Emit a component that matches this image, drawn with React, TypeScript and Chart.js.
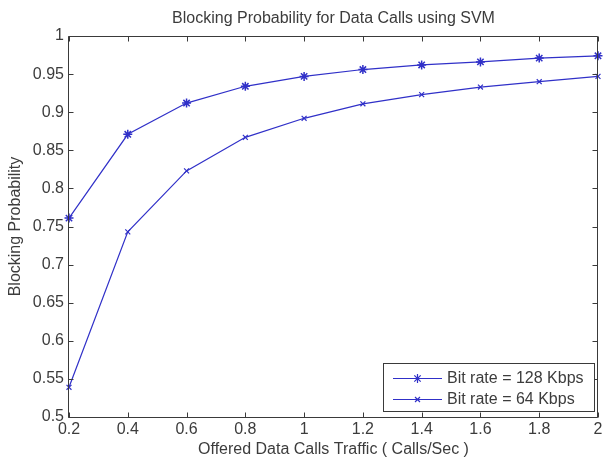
import React, { useEffect, useRef } from "react";
import { Chart, registerables } from "chart.js";

Chart.register(...registerables);

const trafficValues = [0.2, 0.4, 0.6, 0.8, 1.0, 1.2, 1.4, 1.6, 1.8, 2.0];
const blocking128 = [0.761, 0.871, 0.912, 0.934, 0.947, 0.956, 0.962, 0.966, 0.971, 0.974];
const blocking64 = [0.539, 0.743, 0.823, 0.867, 0.892, 0.911, 0.923, 0.933, 0.94, 0.947];
const seriesLabels = ["Bit rate = 128 Kbps", "Bit rate = 64 Kbps"];
const chartTitle = "Blocking Probability for Data Calls using SVM";
const xTitle = "Offered Data Calls Traffic ( Calls/Sec )";
const yTitle = "Blocking Probability";

const FONT = "'Liberation Sans', Arial, sans-serif";
const FS = 16;
const TEXT = "#3c3c3c";
const AXIS = "#3a3a3a";
const BLUE = "#3030c8";

const fmt = (v: number) => String(Number(Number(v).toFixed(2)));

function drawMarker(ctx: CanvasRenderingContext2D, style: string, x: number, y: number, r: number) {
  ctx.beginPath();
  if (style === "star") {
    ctx.moveTo(x - r, y); ctx.lineTo(x + r, y);
    ctx.moveTo(x, y - r); ctx.lineTo(x, y + r);
    const d = r * 0.7071;
    ctx.moveTo(x - d, y - d); ctx.lineTo(x + d, y + d);
    ctx.moveTo(x - d, y + d); ctx.lineTo(x + d, y - d);
  } else {
    const d = r * 0.7071;
    ctx.moveTo(x - d, y - d); ctx.lineTo(x + d, y + d);
    ctx.moveTo(x - d, y + d); ctx.lineTo(x + d, y - d);
  }
  ctx.stroke();
}

const framePlugin = {
  id: "matlabFrame",
  afterDraw(chart: any) {
    const { ctx, chartArea: ca, scales } = chart;
    ctx.save();
    // title
    ctx.fillStyle = TEXT;
    ctx.font = `${FS}px ${FONT}`;
    ctx.textAlign = "center";
    ctx.textBaseline = "middle";
    ctx.fillText(chartTitle, (ca.left + ca.right) / 2, 19);

    // box
    const L = ca.left - 0.5, R = ca.right - 0.5, T = ca.top + 0.5, B = ca.bottom + 0.5;
    ctx.strokeStyle = AXIS;
    ctx.lineWidth = 1;
    ctx.beginPath();
    ctx.rect(L, T, R - L, B - T);
    ctx.stroke();

    // inward ticks
    const tl = 5;
    ctx.beginPath();
    scales.x.ticks.forEach((t: any) => {
      const px = Math.round(scales.x.getPixelForValue(t.value)) + 0.5;
      ctx.moveTo(px, B); ctx.lineTo(px, B - tl);
      ctx.moveTo(px, T); ctx.lineTo(px, T + tl);
    });
    scales.y.ticks.forEach((t: any) => {
      const py = Math.round(scales.y.getPixelForValue(t.value)) + 0.5;
      ctx.moveTo(L, py); ctx.lineTo(L + tl, py);
      ctx.moveTo(R, py); ctx.lineTo(R - tl, py);
    });
    ctx.stroke();

    // legend
    const lx = 383.5, ly = 363.5, lw = 211, lh = 48;
    ctx.fillStyle = "#ffffff";
    ctx.fillRect(lx, ly, lw, lh);
    ctx.strokeStyle = AXIS;
    ctx.strokeRect(lx, ly, lw, lh);
    const rows = [378, 399];
    chart.data.datasets.forEach((ds: any, i: number) => {
      const y = rows[i] + 0.5;
      ctx.strokeStyle = ds.borderColor;
      ctx.lineWidth = 1.2;
      ctx.beginPath();
      ctx.moveTo(393, y); ctx.lineTo(442, y);
      ctx.stroke();
      drawMarker(ctx, ds.pointStyle, 417.5, y, ds.pointRadius);
      ctx.fillStyle = TEXT;
      ctx.font = `${FS}px ${FONT}`;
      ctx.textAlign = "left";
      ctx.textBaseline = "middle";
      ctx.fillText(ds.label, 447, y);
    });
    ctx.restore();
  },
};

export default function App() {
  const ref = useRef<HTMLCanvasElement | null>(null);
  useEffect(() => {
    if (!ref.current) return;
    const chart = new Chart(ref.current, {
      type: "line",
      data: {
        datasets: [
          {
            label: seriesLabels[0],
            data: trafficValues.map((x, i) => ({ x, y: blocking128[i] })),
            borderColor: BLUE,
            backgroundColor: BLUE,
            borderWidth: 1.2,
            pointStyle: "star",
            pointRadius: 4.5,
            pointBorderWidth: 1.5,
            pointBorderColor: BLUE,
            tension: 0,
            clip: false as any,
          },
          {
            label: seriesLabels[1],
            data: trafficValues.map((x, i) => ({ x, y: blocking64[i] })),
            borderColor: BLUE,
            backgroundColor: BLUE,
            borderWidth: 1.2,
            pointStyle: "crossRot",
            pointRadius: 3.5,
            pointBorderWidth: 1.2,
            pointBorderColor: BLUE,
            tension: 0,
            clip: false as any,
          },
        ],
      },
      options: {
        responsive: false,
        devicePixelRatio: 1,
        animation: false,
        layout: { padding: { top: 36, right: 3, left: 0, bottom: 0 } },
        plugins: {
          legend: { display: false },
          title: { display: false },
          tooltip: { enabled: false },
        },
        scales: {
          x: {
            type: "linear",
            min: 0.2,
            max: 2,
            grid: { display: false, drawTicks: false },
            border: { display: false },
            ticks: {
              stepSize: 0.2,
              autoSkip: false,
              maxRotation: 0,
              padding: 3,
              color: TEXT,
              font: { family: FONT, size: FS },
              callback: (v: any) => fmt(v),
            },
            title: {
              display: true,
              text: xTitle,
              color: TEXT,
              font: { family: FONT, size: FS },
              padding: { top: 0, bottom: 0 },
            },
            afterFit: (s: any) => {
              s.height = 42;
              s.paddingLeft = 0;
              s.paddingRight = 0;
            },
          },
          y: {
            type: "linear",
            min: 0.5,
            max: 1,
            grid: { display: false, drawTicks: false },
            border: { display: false },
            ticks: {
              stepSize: 0.05,
              autoSkip: false,
              padding: 5,
              color: TEXT,
              font: { family: FONT, size: FS },
              callback: (v: any) => fmt(v),
            },
            title: {
              display: true,
              text: yTitle,
              color: TEXT,
              font: { family: FONT, size: FS },
              padding: { top: 6, bottom: 0 },
            },
            afterFit: (s: any) => {
              s.width = 69;
              s.paddingTop = 0;
              s.paddingBottom = 0;
            },
          },
        },
      },
      plugins: [framePlugin],
    });
    return () => chart.destroy();
  }, []);

  return (
    <div style={{ position: "absolute", left: 0, top: 0, width: 604, height: 459, background: "#fff" }}>
      <canvas ref={ref} width={604} height={459} style={{ width: 604, height: 459, display: "block" }} />
    </div>
  );
}
